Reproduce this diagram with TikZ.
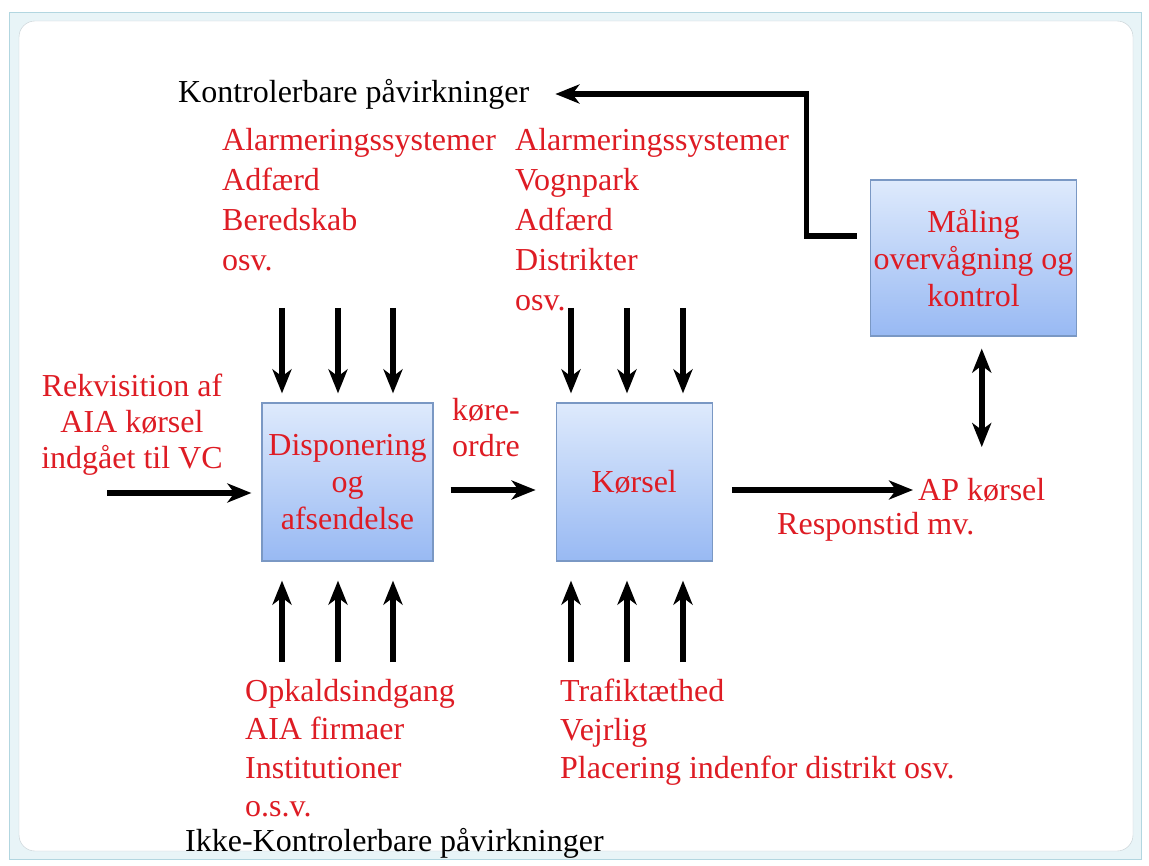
\documentclass[tikz,border=0pt]{standalone}
\usepackage{fontspec}
\setmainfont{Liberation Serif}
\usetikzlibrary{arrows.meta, positioning, calc}
\definecolor{TxtRed}{RGB}{222,28,36}
\definecolor{BoxTop}{RGB}{222,234,252}
\definecolor{BoxBot}{RGB}{152,185,243}
\definecolor{BoxLine}{RGB}{122,152,196}
\definecolor{FrameBand}{RGB}{232,244,247}
\definecolor{FrameLine}{RGB}{178,214,224}
\definecolor{FrameIn}{RGB}{196,205,210}

\begin{document}
\begin{tikzpicture}[x=1pt, y=-1pt]

\tikzset{
>={Stealth[length=24pt, width=19pt, inset=7pt]},
box/.style={
draw=BoxLine,
line width=1.2pt,
top color=BoxTop,
bottom color=BoxBot,
minimum width=#1,
minimum height=158pt,
align=center,
text=TxtRed,
font=\fontsize{32}{37}\selectfont
},
lbl/.style={
inner sep=0pt,
align=left,
text=TxtRed,
font=\fontsize{32}{40}\selectfont
},
big/.style={
line width=5.5pt,
->
}
}

\useasboundingbox (0,0) rectangle (1149,866);

% canvas frame
\filldraw[fill=FrameBand, draw=FrameLine] (9,12) rectangle (1141,859);
\filldraw[fill=white, draw=FrameIn, rounded corners=16pt] (19,21) rectangle (1133,851);

\node[box=171pt] (disp) at (347.5,482)
{Disponering\\og\\afsendelse};

\node[box=156pt, right=122pt of disp] (kor)
{Kørsel};

\node[box=205pt, minimum height=156pt] (maal) at (973.5,258)
{Måling\\overvågning og\\kontrol};

\node[lbl, anchor=west, text=black] (kon) at (178,94)
{Kontrolerbare påvirkninger};

\node[lbl, anchor=west, text=black] (ikke) at (185,843)
{Ikke-Kontrolerbare påvirkninger};

\node[lbl, anchor=north west] (topl) at (222,128)
{Alarmeringssystemer\\Adfærd\\Beredskab\\osv.};

\node[lbl, anchor=north west] (topr) at (515,128)
{Alarmeringssystemer\\Vognpark\\Adfærd\\Distrikter\\osv.};

\node[lbl, anchor=north west, font=\fontsize{32}{38.5}\selectfont] (botl) at (245,679)
{Opkaldsindgang\\AIA firmaer\\Institutioner\\o.s.v.};

\node[lbl, anchor=north west, font=\fontsize{32}{38.5}\selectfont] (botr) at (560,679)
{Trafiktæthed\\Vejrlig\\Placering indenfor distrikt osv.};

\node[lbl, anchor=north, align=center, font=\fontsize{32}{36}\selectfont] (rek) at (132,374)
{Rekvisition af\\AIA kørsel\\indgået til VC};

\node[lbl, anchor=north west, font=\fontsize{32}{36}\selectfont] (kore) at (452,398)
{køre-\\ordre};

\node[lbl, anchor=west] (ap) at (918,490) {AP kørsel};

\node[lbl, anchor=west] (resp) at (777,527) {Responstid mv.};

% influences from above and below
\foreach \x [count=\i] in {282,338,393} {
\coordinate (dt\i) at (\x,308);
\coordinate (db\i) at (\x,662);
\draw[big, shorten >=9pt] (dt\i) -- (dt\i |- disp.north);
\draw[big, shorten >=19pt] (db\i) -- (db\i |- disp.south);
}
\foreach \x [count=\i] in {571,627,683} {
\coordinate (kt\i) at (\x,308);
\coordinate (kb\i) at (\x,662);
\draw[big, shorten >=9pt] (kt\i) -- (kt\i |- kor.north);
\draw[big, shorten >=19pt] (kb\i) -- (kb\i |- kor.south);
}

% main flow
\coordinate (in) at (107,493);
\draw[big, shorten >=10pt] (in) -- (in -| disp.west);
\draw[big, shorten <=17pt, shorten >=20pt] ([yshift=-8pt]disp.east) -- ([yshift=-8pt]kor.west);
\draw[big, shorten <=19pt, shorten >=5pt] (ap.west -| kor.east) -- (ap.west);
\draw[big, <->, shorten <=12pt, shorten >=31pt] (maal.south -| ap.north) -- (ap.north);

% feedback
\draw[big, shorten <=13pt, shorten >=26pt] ([yshift=22pt]maal.west) -- ++(-63,0) |- (kon.east);

\end{tikzpicture}
\end{document}
